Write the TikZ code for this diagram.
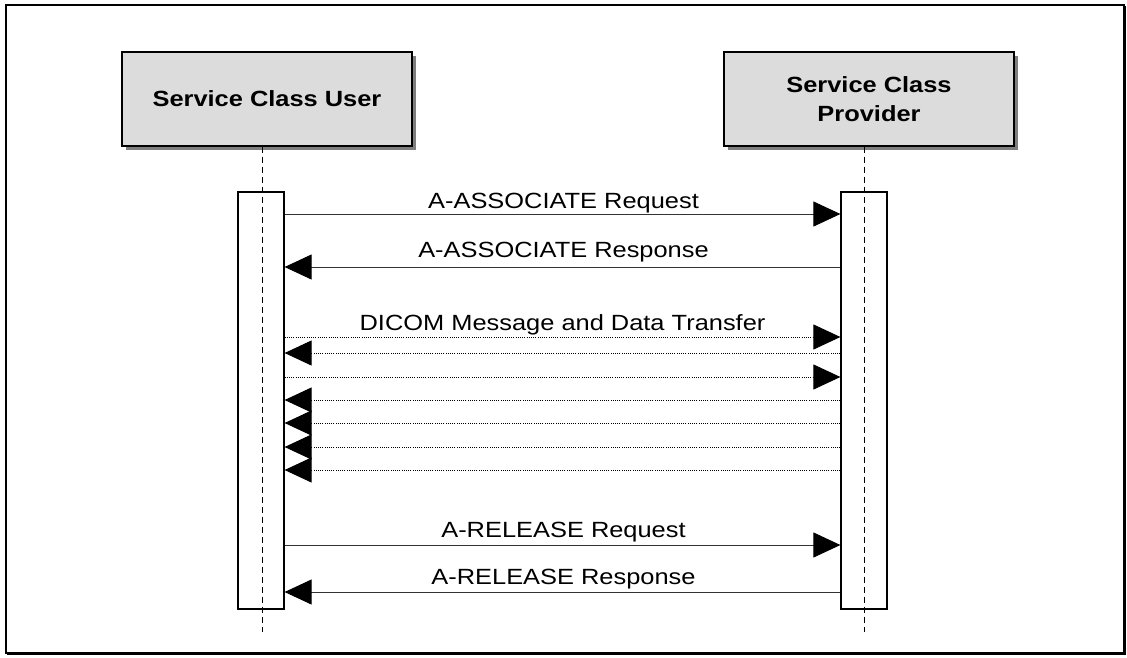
\documentclass[tikz,border=0pt]{standalone}
\usepackage{fontspec}
\usetikzlibrary{arrows.meta,shadows}
\newfontfamily\lblfont[FakeStretch=1.155]{Liberation Sans}
\definecolor{boxgray}{HTML}{DCDCDC}
\definecolor{shadowgray}{HTML}{7F7F7F}
\definecolor{linegray}{HTML}{333333}
\tikzset{
  titlebox/.style={draw=black, line width=1.4pt, fill=boxgray,
    minimum width=290pt, minimum height=94pt, align=center,
    font=\lblfont\bfseries\fontsize{22}{29}\selectfont,
    drop shadow={shadow xshift=4pt, shadow yshift=-4pt, fill=shadowgray, opacity=1}},
  actbox/.style={draw=black, line width=1.2pt, fill=white,
    minimum width=46pt, minimum height=417pt, inner sep=0pt},
  lifeline/.style={draw=black, line width=0.8pt, dash pattern=on 6pt off 4pt},
  msg/.style={draw=linegray, line width=0.9pt,
    -{Triangle[length=27pt,width=25pt,color=black]}},
  dotmsg/.style={msg, draw=black, dash pattern=on 1pt off 1.2pt},
  lbl/.style={font=\lblfont\fontsize{22}{24}\selectfont, anchor=base, inner sep=0pt},
}
\begin{document}
\begin{tikzpicture}[x=1pt,y=-1pt]
  \useasboundingbox (0,0) rectangle (1127,657);
  % outer frame
  \draw[line width=2pt] (6,5) rectangle (1124,653);
  \draw[line width=1pt] (7,654.5) -- (1125.5,654.5) -- (1125.5,6);

  % participants
  \node[titlebox] (user) at (267,99) {Service Class User};
  \node[titlebox] (prov) at (869,99) {Service Class\\Provider};

  % activation bars
  \node[actbox] (useract) at (261,400.5) {};
  \node[actbox] (provact) at (864,400.5) {};

  % lifelines
  \coordinate (userend) at (262,632);
  \coordinate (provend) at (864,632);
  \draw[lifeline] (user.south -| userend) -- (userend);
  \draw[lifeline] (prov.south -| provend) -- (provend);

  % message rows
  \foreach \n/\y in {ar/214, as/267, d1/337, d2/353, d3/377, d4/400, d5/423, d6/447, d7/470, rr/545, rs/592}
    \coordinate (\n) at (0,\y);

  \draw[msg] (useract.east |- ar) -- (provact.west |- ar);
  \draw[msg] (provact.west |- as) -- (useract.east |- as);
  \draw[dotmsg] (useract.east |- d1) -- (provact.west |- d1);
  \draw[dotmsg] (provact.west |- d2) -- (useract.east |- d2);
  \draw[dotmsg] (useract.east |- d3) -- (provact.west |- d3);
  \draw[dotmsg] (provact.west |- d4) -- (useract.east |- d4);
  \draw[dotmsg] (provact.west |- d5) -- (useract.east |- d5);
  \draw[dotmsg] (provact.west |- d6) -- (useract.east |- d6);
  \draw[dotmsg] (provact.west |- d7) -- (useract.east |- d7);
  \draw[msg] (useract.east |- rr) -- (provact.west |- rr);
  \draw[msg] (provact.west |- rs) -- (useract.east |- rs);

  % message labels
  \node[lbl] (lar) at (563.5,208) {A-ASSOCIATE Request};
  \node[lbl] (las) at (563.5,257) {A-ASSOCIATE Response};
  \node[lbl] (ld)  at (562.5,330) {DICOM Message and Data Transfer};
  \node[lbl] (lrr) at (563.5,537) {A-RELEASE Request};
  \node[lbl] (lrs) at (563.5,584) {A-RELEASE Response};
\end{tikzpicture}
\end{document}
